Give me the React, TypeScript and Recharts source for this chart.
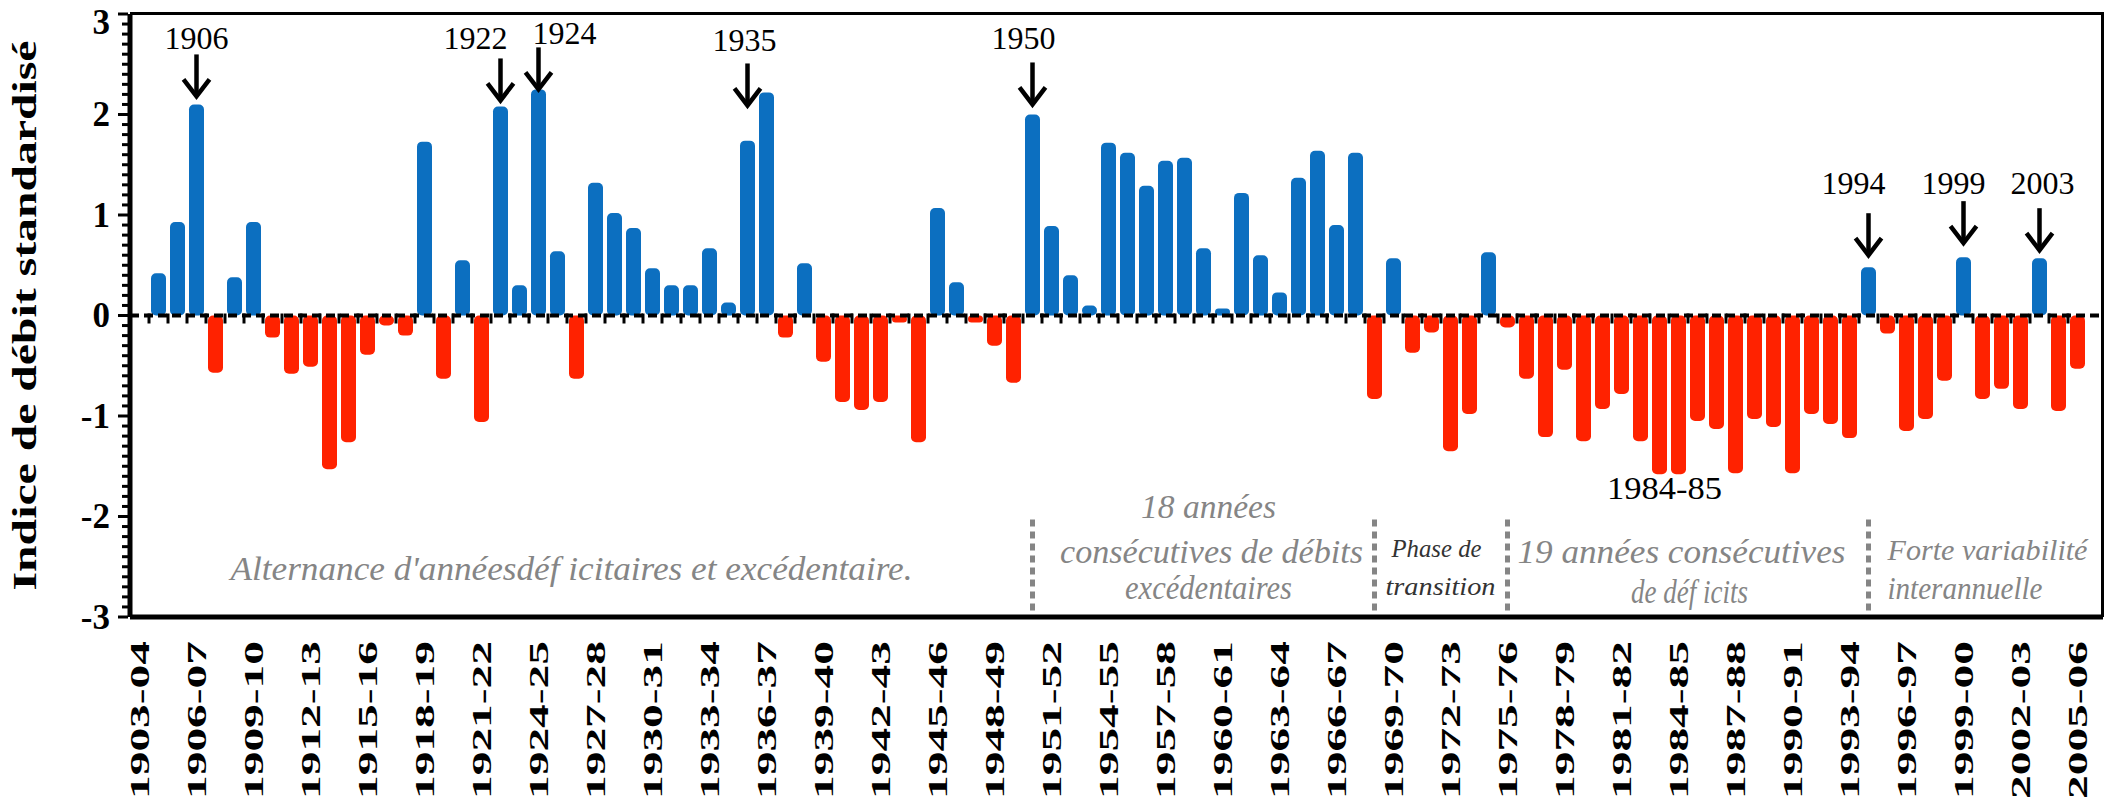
import { BarChart, Bar, XAxis, YAxis, ReferenceLine, ReferenceDot, Rectangle } from 'recharts';

// hydrological seasons (first one has no value in the source figure)
const seasons = [
  '1903-04', '1904-05', '1905-06', '1906-07', '1907-08', '1908-09', '1909-10',
  '1910-11', '1911-12', '1912-13', '1913-14', '1914-15', '1915-16', '1916-17', '1917-18', '1918-19', '1919-20',
  '1920-21', '1921-22', '1922-23', '1923-24', '1924-25', '1925-26', '1926-27', '1927-28', '1928-29', '1929-30',
  '1930-31', '1931-32', '1932-33', '1933-34', '1934-35', '1935-36', '1936-37', '1937-38', '1938-39', '1939-40',
  '1940-41', '1941-42', '1942-43', '1943-44', '1944-45', '1945-46', '1946-47', '1947-48', '1948-49', '1949-50',
  '1950-51', '1951-52', '1952-53', '1953-54', '1954-55', '1955-56', '1956-57', '1957-58', '1958-59', '1959-60',
  '1960-61', '1961-62', '1962-63', '1963-64', '1964-65', '1965-66', '1966-67', '1967-68', '1968-69', '1969-70',
  '1970-71', '1971-72', '1972-73', '1973-74', '1974-75', '1975-76', '1976-77', '1977-78', '1978-79', '1979-80',
  '1980-81', '1981-82', '1982-83', '1983-84', '1984-85', '1985-86', '1986-87', '1987-88', '1988-89', '1989-90',
  '1990-91', '1991-92', '1992-93', '1993-94', '1994-95', '1995-96', '1996-97', '1997-98', '1998-99', '1999-00',
  '2000-01', '2001-02', '2002-03', '2003-04', '2004-05', '2005-06',
];

// standardized flow index
const flowIndex: (number | null)[] = [
  null,
  0.42, 0.93, 2.10, -0.57, 0.38, 0.93, -0.22, -0.58, -0.51, -1.53,
  -1.26, -0.39, -0.10, -0.20, 1.73, -0.63, 0.55, -1.06, 2.08, 0.30,
  2.25, 0.64, -0.63, 1.32, 1.02, 0.87, 0.47, 0.30, 0.30, 0.67,
  0.13, 1.74, 2.22, -0.22, 0.52, -0.46, -0.86, -0.94, -0.86, -0.07,
  -1.26, 1.07, 0.33, -0.07, -0.30, -0.67, 2.00, 0.89, 0.40, 0.10,
  1.72, 1.62, 1.29, 1.54, 1.57, 0.67, 0.07, 1.22, 0.60, 0.23,
  1.37, 1.64, 0.90, 1.62, -0.83, 0.57, -0.37, -0.17, -1.35, -0.98,
  0.63, -0.12, -0.63, -1.21, -0.54, -1.25, -0.93, -0.78, -1.25, -1.58,
  -1.58, -1.05, -1.13, -1.57, -1.03, -1.11, -1.57, -0.98, -1.08, -1.22,
  0.48, -0.18, -1.15, -1.03, -0.65, 0.58, -0.83, -0.73, -0.93, 0.57,
  -0.95, -0.53,
];

// y ticks: labelled integers, minor marks every 0.1
const yTicks = Array.from({ length: 61 }, (_, i) => Math.round((i - 30)) / 10);

// arrows pointing at remarkable wet years
const arrowLabels = ['1906', '1922', '1924', '1935', '1950', '1994', '1999', '2003'];
const arrowSeasons = ['1906-07', '1922-23', '1924-25', '1935-36', '1950-51', '1994-95', '1999-00', '2003-04'];
const arrowTips = [2.16, 2.12, 2.23, 2.07, 2.08, 0.58, 0.70, 0.63];
const arrowLabelLevels = [2.76, 2.76, 2.81, 2.74, 2.76, 1.32, 1.32, 1.32];
const arrowLabelShift = [0, -25, 26, -3, -9, -15, -10, 3];

// period descriptions
const noteTexts = [
  "Alternance d'annéesdéf icitaires et  excédentaire.",
  '18 années',
  'consécutives de débits',
  'excédentaires',
  'Phase de',
  'transition',
  '19 années consécutives',
  'de déf icits',
  'Forte variabilité',
  'interannuelle',
  '1984-85',
];
const noteSeasons = ['1926-27', '1959-60', '1959-60', '1959-60', '1971-72', '1971-72', '1984-85', '1984-85', '1995-96', '1995-96', '1983-84'];
const noteLevels = [-2.52, -1.9, -2.35, -2.71, -2.32, -2.7, -2.35, -2.75, -2.33, -2.71, -1.72];

const separatorSeasons = ['1950-51', '1968-69', '1975-76', '1994-95'];

const data = seasons.map((season, i) => ({ season, value: flowIndex[i] }));

const FONT = '"Liberation Serif", "Times New Roman", serif';
const BLUE = '#0c6fc0';
const RED = '#ff2200';
const GREY = '#858585';

// per note: [dx, anchor, textLength, fontSize, colour, italic]
const noteStyles: [number, string, number, number, string, boolean][] = [
  [-5, 'middle', 682, 34, GREY, true],
  [5, 'middle', 135, 34, GREY, true],
  [8, 'middle', 303, 34, GREY, true],
  [5, 'middle', 167, 34, GREY, true],
  [5, 'middle', 90, 25, '#333', true],
  [9, 'middle', 110, 25, '#333', true],
  [3, 'middle', 328, 34, GREY, true],
  [11, 'middle', 117, 34, GREY, true],
  [0, 'start', 200, 30, GREY, true],
  [0, 'start', 155, 32, GREY, true],
  [5, 'middle', 115, 32, '#000', false],
];

function SeasonTick({ x, y, payload }: any) {
  return (
    <text
      transform={`translate(${x + 9},${y + 22}) rotate(-90)`}
      textAnchor="end"
      fontFamily={FONT}
      fontWeight="bold"
      fontSize={28}
      textLength={158}
      lengthAdjust="spacingAndGlyphs"
      fill="#000"
    >
      {payload.value}
    </text>
  );
}

function LevelTick({ x, y, payload }: any) {
  const v = payload.value;
  const major = Math.abs(v - Math.round(v)) < 1e-6;
  return (
    <g>
      <line x1={x - (major ? 10 : 6)} x2={x} y1={y} y2={y} stroke="#000" strokeWidth={3} />
      {major && (
        <text x={x - 18} y={Math.max(y, 22)} textAnchor="end" dominantBaseline="central" fontFamily={FONT} fontWeight="bold" fontSize={35} fill="#000">
          {Math.round(v)}
        </text>
      )}
    </g>
  );
}

function IndexBar(props: any) {
  const { x, y, width, height, payload } = props;
  if (payload == null || payload.value == null) return <g />;
  const zeroY = y + height;
  return (
    <g>
      <Rectangle x={x} y={y} width={width} height={height} fill={payload.value >= 0 ? BLUE : RED} radius={5} />
      <line x1={x - 2} x2={x - 2} y1={zeroY - 2} y2={zeroY + 8} stroke="#000" strokeWidth={3} />
    </g>
  );
}

const arrowShape = (p: any) => (
  <g stroke="#000" strokeWidth={4.5} fill="none">
    <line x1={p.cx} x2={p.cx} y1={p.cy - 44} y2={p.cy - 3} />
    <polyline points={`${p.cx - 13},${p.cy - 19} ${p.cx},${p.cy - 2} ${p.cx + 13},${p.cy - 19}`} />
  </g>
);

const arrowLabelShape = (i: number) => (p: any) => (
  <text x={p.cx + arrowLabelShift[i]} y={p.cy} textAnchor="middle" dominantBaseline="central" fontFamily={FONT} fontSize={32} fill="#000">
    {arrowLabels[i]}
  </text>
);

const noteShape = (i: number) => (p: any) => {
  const [dx, anchor, len, size, colour, italic] = noteStyles[i];
  return (
    <text
      x={p.cx + dx}
      y={p.cy}
      textAnchor={anchor}
      dominantBaseline="central"
      fontFamily={FONT}
      fontStyle={italic ? 'italic' : 'normal'}
      fontSize={size}
      fill={colour}
      textLength={len}
      lengthAdjust="spacingAndGlyphs"
    >
      {noteTexts[i]}
    </text>
  );
};

const yTitle = (props: any) => {
  const vb = props.viewBox;
  const cy = vb.y + vb.height / 2;
  return (
    <text
      transform={`translate(25,${cy}) rotate(-90)`}
      textAnchor="middle"
      dominantBaseline="central"
      fontFamily={FONT}
      fontWeight="bold"
      fontSize={33}
      textLength={550}
      lengthAdjust="spacingAndGlyphs"
      fill="#000"
    >
      Indice de débit standardisé
    </text>
  );
};

export default function App() {
  return (
    <div style={{ position: 'fixed', left: 0, top: 0, width: 2110, height: 807, background: '#fff' }}>
      <BarChart width={2110} height={807} data={data} margin={{ top: 14, right: 7, left: 0, bottom: 0 }} barSize={15}>
        <XAxis
          dataKey="season"
          interval={2}
          tick={<SeasonTick />}
          tickLine={false}
          tickSize={0}
          height={190}
          padding={{ left: 0, right: 16 }}
          axisLine={{ stroke: '#000', strokeWidth: 5 }}
        />
        <YAxis
          type="number"
          domain={[-3, 3]}
          ticks={yTicks}
          interval={0}
          tick={<LevelTick />}
          tickLine={false}
          tickSize={0}
          width={130}
          axisLine={{ stroke: '#000', strokeWidth: 5 }}
          label={yTitle}
        />
        <Bar dataKey="value" shape={<IndexBar />} isAnimationActive={false} />
        <ReferenceLine y={0} stroke="#000" strokeWidth={4} strokeDasharray="9 5" />
        {separatorSeasons.map((s) => (
          <ReferenceLine
            key={s}
            segment={[{ x: s, y: -2.03 }, { x: s, y: -2.95 }]}
            stroke={GREY}
            strokeWidth={5}
            strokeDasharray="7 5"
          />
        ))}
        {arrowSeasons.map((s, i) => (
          <ReferenceDot key={'a' + s} x={s} y={arrowTips[i]} shape={arrowShape} />
        ))}
        {arrowSeasons.map((s, i) => (
          <ReferenceDot key={'l' + s} x={s} y={arrowLabelLevels[i]} shape={arrowLabelShape(i)} />
        ))}
        {noteSeasons.map((s, i) => (
          <ReferenceDot key={'n' + i} x={s} y={noteLevels[i]} shape={noteShape(i)} />
        ))}
      </BarChart>
      <div
        style={{
          position: 'absolute',
          left: 130,
          top: 12,
          width: 1974,
          height: 605,
          boxSizing: 'border-box',
          borderTop: '3px solid #000',
          borderRight: '3px solid #000',
          pointerEvents: 'none',
        }}
      />
    </div>
  );
}
